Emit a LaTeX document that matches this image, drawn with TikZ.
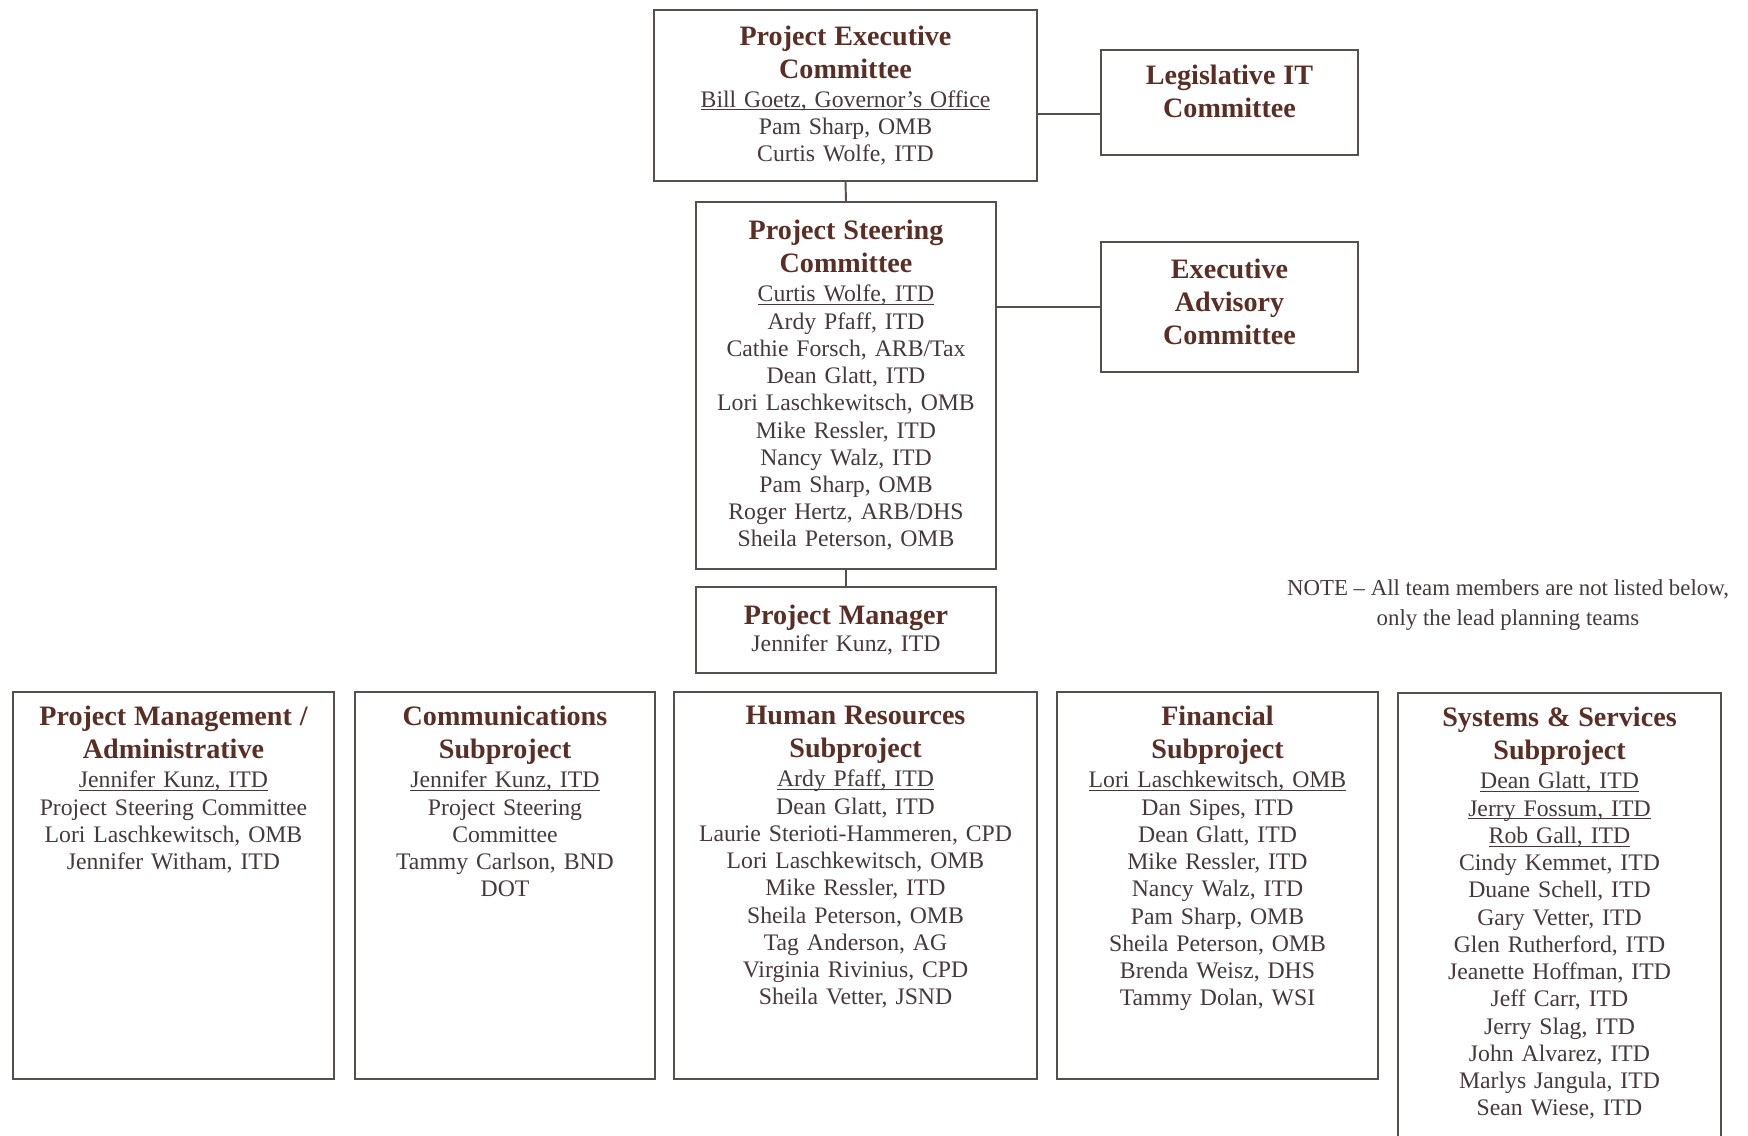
\documentclass[tikz,border=0pt]{standalone}
\usepackage{fontspec}
\setmainfont{Liberation Serif}
\usetikzlibrary{positioning}

\definecolor{boxline}{HTML}{55504C}
\definecolor{titletext}{HTML}{5A2E24}
\definecolor{bodytext}{HTML}{47383A}
\newcommand{\bodyfont}{\fontsize{13.5}{15.5}\selectfont}
\newcommand{\boxtitle}[1]{{\fontsize{16}{15.5}\selectfont\bfseries\color{titletext}#1}}
\newcommand{\leadname}[1]{\underline{\smash{#1}}}

\begin{document}
\begin{tikzpicture}[x=0.02cm, y=-0.02cm,
	unitbox/.style={draw=boxline, line width=1.1pt, align=center, inner sep=2pt, text=bodytext, font=\bodyfont},
	teambox/.style={draw=boxline, line width=1.1pt, minimum height=7.74cm},
	teamtext/.style={align=center, inner sep=0pt, text=bodytext, font=\bodyfont},
	link/.style={draw=boxline, line width=1.1pt}]
	\useasboundingbox (0,0) rectangle (1748,1136);
	%Project Executive Committee
		\node[unitbox, minimum width=7.66cm, minimum height=3.42cm, text width=7.2cm] (pec) at (845.5,95.5)
			{\boxtitle{Project Executive}\\[3.3pt]\boxtitle{Committee}\\[1pt]
			\leadname{Bill Goetz, Governor’s Office}\\Pam Sharp, OMB\\Curtis Wolfe, ITD};
	%Legislative IT Committee
		\node[unitbox, minimum width=5.14cm, minimum height=2.1cm, text width=4.8cm] (lit) at (1229.5,102.5)
			{\boxtitle{Legislative IT}\\[3.3pt]\boxtitle{Committee}\\[-0.1cm]\mbox{}};
		\coordinate (legjoin) at (1069,114);
		\draw[link] (pec.east |- legjoin) -- (lit.west |- legjoin);
	%Project Steering Committee
		\node[unitbox, minimum width=6cm, minimum height=7.34cm, text width=5.6cm] (psc) at (846,385.5)
			{\boxtitle{Project Steering}\\[3.3pt]\boxtitle{Committee}\\[1pt]
			\leadname{Curtis Wolfe, ITD}\\Ardy Pfaff, ITD\\Cathie Forsch, ARB/Tax\\Dean Glatt, ITD\\
			Lori Laschkewitsch, OMB\\Mike Ressler, ITD\\Nancy Walz, ITD\\Pam Sharp, OMB\\
			Roger Hertz, ARB/DHS\\Sheila Peterson, OMB};
		\draw[link] (pec.south) -- (psc.north);
	%Executive Advisory Committee
		\node[unitbox, minimum width=5.14cm, minimum height=2.6cm, text width=4.8cm] (eac) at (1229.5,307)
			{\boxtitle{Executive}\\[3.3pt]\boxtitle{Advisory}\\[3.3pt]\boxtitle{Committee}\\[-0.33cm]\mbox{}};
		\draw[link] (psc.east |- eac.west) -- (eac.west);
	%Project Manager
		\node[unitbox, minimum width=6cm, minimum height=1.72cm, text width=5.6cm] (pm) at (846,630)
			{\boxtitle{Project Manager}\\Jennifer Kunz, ITD};
		\draw[link] (psc.south) -- (pm.north);
	%Note
		\node[text=bodytext, align=center, font=\fontsize{13}{17.5}\selectfont] (note) at (1508,605)
			{NOTE – All team members are not listed below,\\only the lead planning teams};
	%Project Management / Administrative
		\node[teambox, minimum width=6.42cm] (admin) at (173.5,885.5) {};
		\node[teamtext, text width=6.1cm, below=0.3cm of admin.north] (admintxt)
			{\boxtitle{Project Management /}\\[3.3pt]\boxtitle{Administrative}\\[1pt]
			\leadname{Jennifer Kunz, ITD}\\Project Steering Committee\\Lori Laschkewitsch, OMB\\Jennifer Witham, ITD};
	%Communications Subproject
		\node[teambox, minimum width=6cm] (comm) at (505,885.5) {};
		\node[teamtext, text width=5.7cm, below=0.3cm of comm.north] (commtxt)
			{\boxtitle{Communications}\\[3.3pt]\boxtitle{Subproject}\\[1pt]
			\leadname{Jennifer Kunz, ITD}\\Project Steering\\Committee\\Tammy Carlson, BND\\DOT};
	%Human Resources Subproject
		\node[teambox, minimum width=7.26cm] (hr) at (855.5,885.5) {};
		\node[teamtext, text width=6.9cm, below=0.3cm of hr.north] (hrtxt)
			{\boxtitle{Human Resources}\\[3.3pt]\boxtitle{Subproject}\\[1pt]
			\leadname{Ardy Pfaff, ITD}\\Dean Glatt, ITD\\Laurie Sterioti-Hammeren, CPD\\Lori Laschkewitsch, OMB\\
			Mike Ressler, ITD\\Sheila Peterson, OMB\\Tag Anderson, AG\\Virginia Rivinius, CPD\\Sheila Vetter, JSND};
	%Financial Subproject
		\node[teambox, minimum width=6.42cm] (fin) at (1217.5,885.5) {};
		\node[teamtext, text width=6.1cm, below=0.3cm of fin.north] (fintxt)
			{\boxtitle{Financial}\\[3.3pt]\boxtitle{Subproject}\\[1pt]
			\leadname{Lori Laschkewitsch, OMB}\\Dan Sipes, ITD\\Dean Glatt, ITD\\Mike Ressler, ITD\\
			Nancy Walz, ITD\\Pam Sharp, OMB\\Sheila Peterson, OMB\\Brenda Weisz, DHS\\Tammy Dolan, WSI};
	%Systems & Services Subproject
		\node[teambox, minimum width=6.46cm, minimum height=9.14cm] (sys) at (1559.5,921.5) {};
		\node[teamtext, text width=6.1cm, below=0.3cm of sys.north] (systxt)
			{\boxtitle{Systems \& Services}\\[3.3pt]\boxtitle{Subproject}\\[1pt]
			\leadname{Dean Glatt, ITD}\\\leadname{Jerry Fossum, ITD}\\\leadname{Rob Gall, ITD}\\
			Cindy Kemmet, ITD\\Duane Schell, ITD\\Gary Vetter, ITD\\Glen Rutherford, ITD\\
			Jeanette Hoffman, ITD\\Jeff Carr, ITD\\Jerry Slag, ITD\\John Alvarez, ITD\\
			Marlys Jangula, ITD\\Sean Wiese, ITD};
\end{tikzpicture}
\end{document}
